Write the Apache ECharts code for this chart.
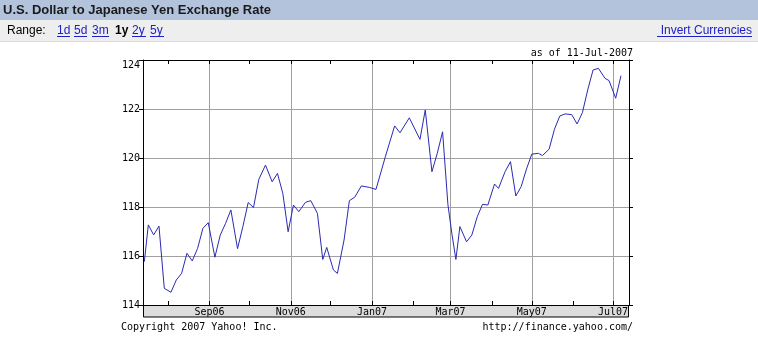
<!DOCTYPE html>
<html>
<head>
<meta charset="utf-8">
<script src="https://cdn.jsdelivr.net/npm/echarts@6/dist/echarts.min.js"></script>
<style>
html,body{margin:0;padding:0;background:#fff;}
#chart{width:758px;height:337px;}
</style>
</head>
<body>
<div id="chart"></div>
<script>
// ---- data ----
const dates = ['2006-07-14','2006-07-17','2006-07-21','2006-07-25','2006-07-29',
'2006-08-03','2006-08-07','2006-08-11','2006-08-15','2006-08-19','2006-08-23','2006-08-27','2006-08-31',
'2006-09-05','2006-09-09','2006-09-13','2006-09-17','2006-09-22','2006-09-26','2006-09-30',
'2006-10-04','2006-10-08','2006-10-13','2006-10-18','2006-10-22','2006-10-26','2006-10-30',
'2006-11-03','2006-11-07','2006-11-12','2006-11-16','2006-11-21','2006-11-25','2006-11-28',
'2006-12-03','2006-12-06','2006-12-11','2006-12-15','2006-12-19','2006-12-24','2006-12-30',
'2007-01-04','2007-01-11','2007-01-18','2007-01-22','2007-01-29',
'2007-02-06','2007-02-10','2007-02-15','2007-02-19','2007-02-23','2007-02-27',
'2007-03-02','2007-03-05','2007-03-08','2007-03-13','2007-03-17','2007-03-21','2007-03-25','2007-03-29',
'2007-04-03','2007-04-06','2007-04-11','2007-04-15','2007-04-19','2007-04-23','2007-04-27',
'2007-05-01','2007-05-06','2007-05-09','2007-05-14','2007-05-18','2007-05-22','2007-05-26','2007-05-31',
'2007-06-04','2007-06-08','2007-06-12','2007-06-16','2007-06-20','2007-06-25','2007-06-28',
'2007-07-03','2007-07-07'];
const rates = [115.77,117.27,116.86,117.22,114.68,
114.52,115.02,115.29,116.11,115.80,116.31,117.13,117.36,
115.95,116.85,117.33,117.88,116.30,117.20,118.18,
117.98,119.13,119.71,119.03,119.37,118.56,116.99,
118.08,117.81,118.19,118.26,117.74,115.86,116.35,
115.43,115.29,116.65,118.26,118.40,118.86,118.80,
118.72,120.05,121.31,121.03,121.64,
120.76,121.96,119.44,120.19,121.07,118.10,
116.90,115.86,117.20,116.58,116.86,117.60,118.11,118.08,
118.94,118.76,119.45,119.85,118.45,118.83,119.55,
120.16,120.19,120.10,120.36,121.17,121.71,121.80,121.77,
121.39,121.85,122.78,123.59,123.66,123.25,123.16,
122.44,123.36];
const axisStart = '2006-07-13';
const axisEnd = '2007-07-13';
const monthTicks = ['2006-08-01','2006-09-01','2006-10-01','2006-11-01','2006-12-01','2007-01-01',
'2007-02-01','2007-03-01','2007-04-01','2007-05-01','2007-06-01','2007-07-01'];
const labelMonths = ['2006-09-01','2006-11-01','2007-01-01','2007-03-01','2007-05-01','2007-07-01'];
const labelTexts = ['Sep06','Nov06','Jan07','Mar07','May07','Jul07'];

// ---- chart ----
const ts = s => { const p = s.split('-').map(Number); return Date.UTC(p[0], p[1]-1, p[2]); };
const labelMap = {};
labelMonths.forEach((m,i)=>{ labelMap[ts(m)] = labelTexts[i]; });
const seriesData = dates.map((d,i)=>[ts(d), rates[i]]);
const mono = '"DejaVu Sans Mono", monospace';
const gridColor = '#a0a0a0';
const linkColor = '#2020c8';

const chart = echarts.init(document.getElementById('chart'), null, {renderer:'canvas'});

const baseX = {
  type:'value', min: ts(axisStart), max: ts(axisEnd), scale:true,
  axisLine:{show:true, onZero:false, lineStyle:{color:'#000', width:1}},
  axisTick:{show:true, inside:true, length:4, customValues: monthTicks.map(ts), lineStyle:{color:'#000'}},
  axisLabel:{show:false},
  splitLine:{show:false},
  axisPointer:{show:false}
};

chart.setOption({
  animation:false,
  backgroundColor:'#fff',
  grid:{left:143, right:129, top:60, bottom:32, containLabel:false},
  xAxis:[
    Object.assign({}, baseX, {position:'bottom'}),
    Object.assign({}, baseX, {position:'top'}),
    {
      type:'value', min: ts(axisStart), max: ts(axisEnd), position:'bottom', scale:true,
      axisLine:{show:false, onZero:false},
      axisTick:{show:false, customValues: labelMonths.map(ts)},
      axisLabel:{show:true, customValues: labelMonths.map(ts), margin:2,
        fontFamily: mono, fontSize:10, color:'#000', lineHeight:11,
        formatter: v => labelMap[v] || ''},
      splitLine:{show:true, lineStyle:{color:gridColor, width:1}}
    }
  ],
  yAxis:[
    {type:'value', min:114, max:124, interval:2, position:'left',
      axisLine:{show:true, onZero:false, lineStyle:{color:'#000'}},
      axisTick:{show:true, inside:false, length:4, lineStyle:{color:'#000'}},
      axisLabel:{show:true, margin:3, fontFamily:mono, fontSize:10, color:'#000',
        verticalAlignMaxLabel:'top'},
      splitLine:{show:true, lineStyle:{color:gridColor, width:1}}},
    {type:'value', min:114, max:124, interval:2, position:'right',
      axisLine:{show:true, onZero:false, lineStyle:{color:'#000'}},
      axisTick:{show:true, inside:false, length:4, lineStyle:{color:'#000'}},
      axisLabel:{show:false},
      splitLine:{show:false}}
  ],
  series:[{
    type:'line', xAxisIndex:2, yAxisIndex:0, data: seriesData,
    showSymbol:false, symbol:'none', smooth:false,
    lineStyle:{color:'#2a2ab4', width:1}
  }],
  graphic:[
    {type:'rect', z:-10, shape:{x:0,y:0,width:758,height:20}, style:{fill:'#b3c3dc'}},
    {type:'rect', z:-10, shape:{x:0,y:20,width:758,height:21}, style:{fill:'#eeeeee'}},
    {type:'rect', z:-10, shape:{x:0,y:41,width:758,height:1}, style:{fill:'#dcdcdc'}},
    {type:'text', x:3, y:10, style:{text:'U.S. Dollar to Japanese Yen Exchange Rate', font:'bold 13px Arial, "Liberation Sans", sans-serif', fill:'#1a1a1a', verticalAlign:'middle'}},
    {type:'text', x:7, y:31, style:{text:'Range:', font:'12px Arial, "Liberation Sans", sans-serif', fill:'#000', verticalAlign:'middle'}},
    {type:'text', x:57, y:31, style:{text:'1d', font:'12px Arial, "Liberation Sans", sans-serif', fill:linkColor, verticalAlign:'middle'}},
    {type:'line', shape:{x1:57,y1:36.5,x2:70,y2:36.5}, style:{stroke:linkColor, lineWidth:1}},
    {type:'text', x:74, y:31, style:{text:'5d', font:'12px Arial, "Liberation Sans", sans-serif', fill:linkColor, verticalAlign:'middle'}},
    {type:'line', shape:{x1:74,y1:36.5,x2:87,y2:36.5}, style:{stroke:linkColor, lineWidth:1}},
    {type:'text', x:92, y:31, style:{text:'3m', font:'12px Arial, "Liberation Sans", sans-serif', fill:linkColor, verticalAlign:'middle'}},
    {type:'line', shape:{x1:92,y1:36.5,x2:109,y2:36.5}, style:{stroke:linkColor, lineWidth:1}},
    {type:'text', x:115, y:31, style:{text:'1y', font:'bold 12px Arial, "Liberation Sans", sans-serif', fill:'#000', verticalAlign:'middle'}},
    {type:'text', x:132, y:31, style:{text:'2y', font:'12px Arial, "Liberation Sans", sans-serif', fill:linkColor, verticalAlign:'middle'}},
    {type:'line', shape:{x1:132,y1:36.5,x2:146,y2:36.5}, style:{stroke:linkColor, lineWidth:1}},
    {type:'text', x:150, y:31, style:{text:'5y', font:'12px Arial, "Liberation Sans", sans-serif', fill:linkColor, verticalAlign:'middle'}},
    {type:'line', shape:{x1:150,y1:36.5,x2:164,y2:36.5}, style:{stroke:linkColor, lineWidth:1}},
    {type:'text', x:752, y:31, style:{text:'Invert Currencies', font:'12px Arial, "Liberation Sans", sans-serif', fill:linkColor, verticalAlign:'middle', align:'right'}},
    {type:'line', shape:{x1:657,y1:36.5,x2:752,y2:36.5}, style:{stroke:linkColor, lineWidth:1}},
    {type:'text', x:633, y:53, style:{text:'as of 11-Jul-2007', font:'10px '+mono, fill:'#000', verticalAlign:'middle', align:'right'}},
    {type:'rect', z:-1, shape:{x:143.5,y:305.5,width:485,height:11.5}, style:{fill:'#dddddd', stroke:'#000', lineWidth:1}},
    {type:'text', x:121, y:327, style:{text:'Copyright 2007 Yahoo! Inc.', font:'10px '+mono, fill:'#000', verticalAlign:'middle'}},
    {type:'text', x:633, y:327, style:{text:'http://finance.yahoo.com/', font:'10px '+mono, fill:'#000', verticalAlign:'middle', align:'right'}}
  ]
});
</script>
</body>
</html>
